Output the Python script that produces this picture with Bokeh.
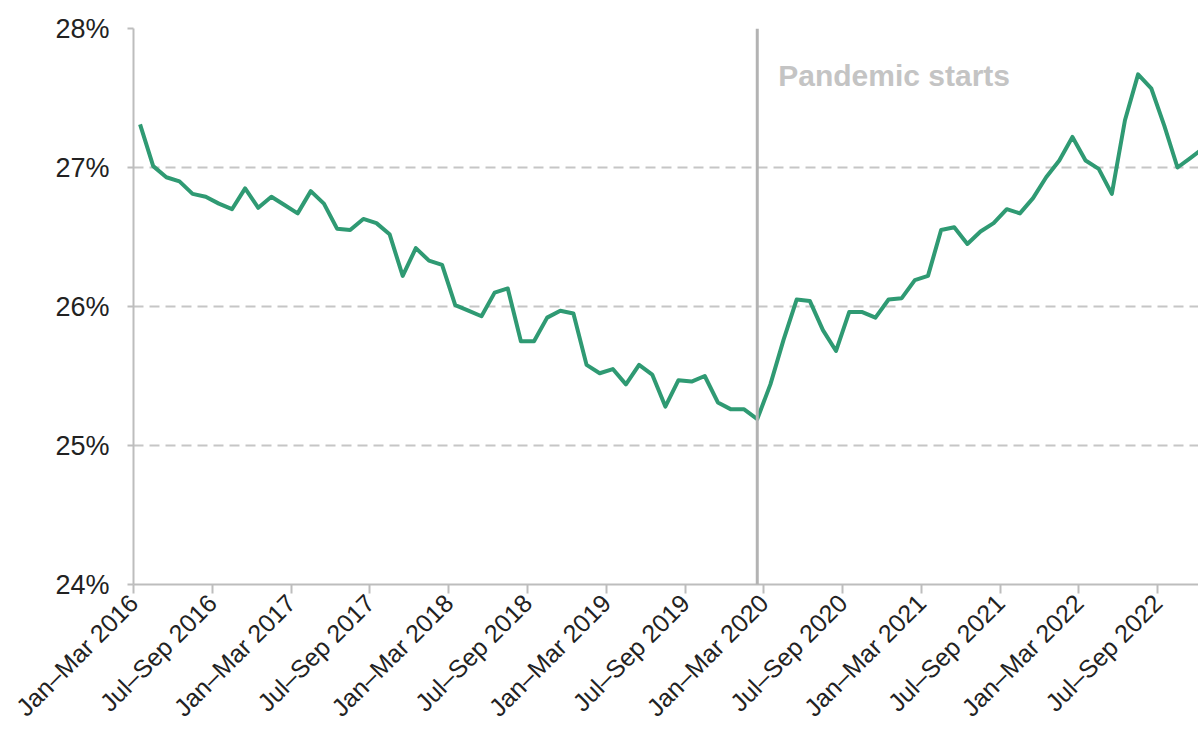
import math
from bokeh.plotting import figure
from bokeh.models import Range1d, FixedTicker, Span, Label, PrintfTickFormatter
from bokeh.embed import file_html
from bokeh.resources import INLINE

# ---- data ----
month_names = ["Jan", "Feb", "Mar", "Apr", "May", "Jun",
               "Jul", "Aug", "Sep", "Oct", "Nov", "Dec"]

values = [27.31, 27.01, 26.93, 26.90, 26.81, 26.79, 26.74, 26.70, 26.85, 26.71,
          26.79, 26.73, 26.67, 26.83, 26.74, 26.56, 26.55, 26.63, 26.60, 26.52,
          26.22, 26.42, 26.33, 26.30, 26.01, 25.97, 25.93, 26.10, 26.13, 25.75,
          25.75, 25.92, 25.97, 25.95, 25.58, 25.52, 25.55, 25.44, 25.58, 25.51,
          25.28, 25.47, 25.46, 25.50, 25.31, 25.26, 25.26, 25.19, 25.44, 25.76,
          26.05, 26.04, 25.83, 25.68, 25.96, 25.96, 25.92, 26.05, 26.06, 26.19,
          26.22, 26.55, 26.57, 26.45, 26.54, 26.60, 26.70, 26.67, 26.78, 26.93,
          27.05, 27.22, 27.05, 26.99, 26.81, 27.34, 27.67, 27.57, 27.30, 27.00,
          27.07, 27.14]

periods = []
for i in range(len(values)):
    s = i % 12
    e = (i + 2) % 12
    year = 2016 + (i + 2) // 12
    periods.append(f"{month_names[s]}\u2013{month_names[e]} {year}")

tick_periods = [periods[k] for k in range(0, len(values), 6)]
y_ticks = [24, 25, 26, 27, 28]
pandemic_index = 47
annotation = "Pandemic starts"

x = list(range(len(values)))

FONT = "Liberation Sans"
GREY = "#bdbdbd"

p = figure(width=1198, height=737, output_backend="svg", toolbar_location=None,
           x_range=Range1d(-0.5, 80.6), y_range=Range1d(24, 28),
           min_border_left=133, min_border_right=0, min_border_top=28,
           min_border_bottom=153)
p.outline_line_color = None
p.background_fill_color = "white"

p.line(x, values, line_color="#2f9a73", line_width=4, line_join="round")

p.add_layout(Span(location=pandemic_index, dimension="height",
                  line_color="#b3b3b3", line_width=3))
p.add_layout(Label(x=pandemic_index, y=27.66, text=annotation, x_offset=21,
                   text_font=FONT, text_font_size="30px", text_font_style="bold",
                   text_color="#c4c4c4", text_baseline="middle"))

# x axis
tick_locs = [k - 0.5 for k in range(0, len(values), 6)]
p.xaxis.ticker = FixedTicker(ticks=tick_locs)
p.xaxis.major_label_overrides = {t: lab for t, lab in zip(tick_locs, tick_periods)}
p.xaxis.major_label_orientation = math.pi / 4
p.xaxis.major_label_text_font = FONT
p.xaxis.major_label_text_font_size = "25px"
p.xaxis.major_label_text_color = "#222222"
p.xaxis.axis_line_color = GREY
p.xaxis.axis_line_width = 2
p.xaxis.major_tick_line_color = GREY
p.xaxis.major_tick_line_width = 2
p.xaxis.major_tick_in = 0
p.xaxis.major_tick_out = 9
p.xaxis.minor_tick_line_color = None
p.xaxis.major_label_standoff = 5

# y axis
p.yaxis.ticker = FixedTicker(ticks=y_ticks)
p.yaxis.formatter = PrintfTickFormatter(format="%d%%")
p.yaxis.major_label_text_font = FONT
p.yaxis.major_label_text_font_size = "27px"
p.yaxis.major_label_text_color = "#222222"
p.yaxis.axis_line_color = GREY
p.yaxis.axis_line_width = 2
p.yaxis.major_tick_line_color = GREY
p.yaxis.major_tick_line_width = 2
p.yaxis.major_tick_in = 0
p.yaxis.major_tick_out = 6
p.yaxis.minor_tick_line_color = None
p.yaxis.major_label_standoff = 18

p.xgrid.grid_line_color = None
p.ygrid.grid_line_color = "#c6c6c6"
p.ygrid.grid_line_width = 2
p.ygrid.grid_line_dash = "10 6"

open("out.html", "w").write(file_html(p, INLINE))
